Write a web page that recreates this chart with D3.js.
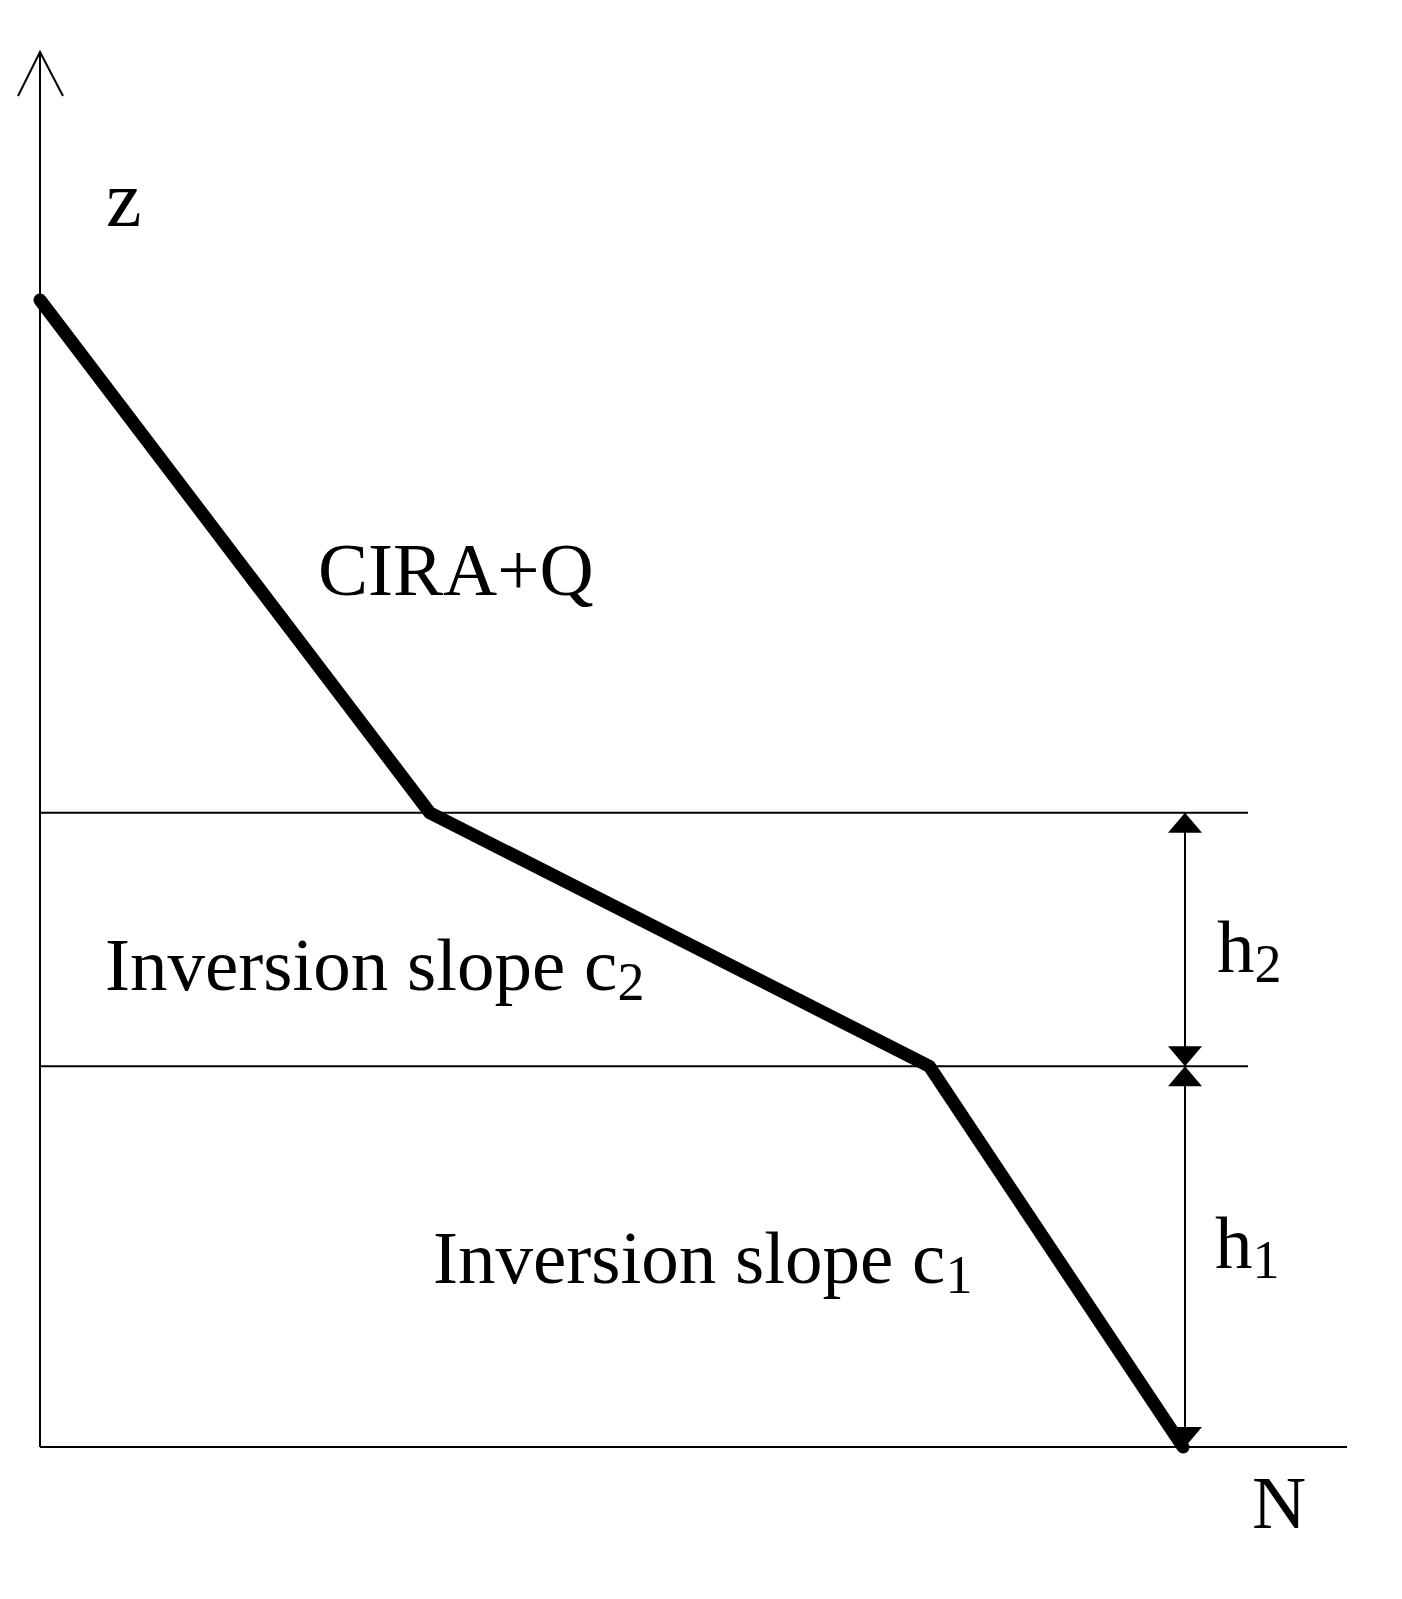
<!DOCTYPE html>
<html><head><meta charset="utf-8">
<script src="https://cdn.jsdelivr.net/npm/d3@7"></script>
<style>body{margin:0;background:#fff}</style>
</head><body>
<svg id="chart" width="1402" height="1599"></svg>
<script>
// profile: N (normalised) vs z (normalised)
const profileN = [0, 0.341, 0.778, 1];
const profileZ = [1, 0.553, 0.332, 0];
const layerZ = [0.553, 0.332];
const layerLabels = ["Inversion slope c", "Inversion slope c"];
const layerSubs = ["2", "1"];

const svg = d3.select("#chart");
const x = d3.scaleLinear().domain([0, 1]).range([40, 1183]);
const y = d3.scaleLinear().domain([0, 1]).range([1447, 300]);
const font = "'Liberation Serif', 'Times New Roman', serif";

// axes
svg.append("line").attr("x1", 40).attr("y1", 1447).attr("x2", 40).attr("y2", 52)
  .attr("stroke", "#000").attr("stroke-width", 2);
svg.append("path").attr("d", "M18,96 L40,52 L63,96").attr("fill", "none")
  .attr("stroke", "#000").attr("stroke-width", 2);
svg.append("line").attr("x1", 40).attr("y1", 1447).attr("x2", 1347).attr("y2", 1447)
  .attr("stroke", "#000").attr("stroke-width", 2);

// layer boundaries
layerZ.forEach(z => {
  svg.append("line").attr("x1", 40).attr("x2", 1248).attr("y1", y(z)).attr("y2", y(z))
    .attr("stroke", "#000").attr("stroke-width", 2);
});

// profile
const pts = profileN.map((n, i) => [x(n), y(profileZ[i])]);
svg.append("path").attr("d", d3.line()(pts)).attr("fill", "none")
  .attr("stroke", "#000").attr("stroke-width", 13)
  .attr("stroke-linejoin", "round").attr("stroke-linecap", "round");

// dimension arrows
const ax = 1185;
const spans = [[layerZ[0], layerZ[1]], [layerZ[1], 0]];
spans.forEach(([a, b]) => {
  const ya = y(a), yb = y(b);
  svg.append("line").attr("x1", ax).attr("x2", ax).attr("y1", ya).attr("y2", yb)
    .attr("stroke", "#000").attr("stroke-width", 2);
  svg.append("path").attr("d", `M${ax},${ya} L${ax - 17},${ya + 20} L${ax + 17},${ya + 20}Z`);
  svg.append("path").attr("d", `M${ax},${yb} L${ax - 17},${yb - 20} L${ax + 17},${yb - 20}Z`);
});

function label(tx, ty, main, sub, size) {
  const t = svg.append("text").attr("x", tx).attr("y", ty)
    .attr("font-family", font).attr("font-size", size).text(main);
  if (sub) t.append("tspan").attr("font-size", size * 0.72).attr("dy", 10).text(sub);
}
label(106, 226, "z", null, 80);
label(318, 595, "CIRA+Q", null, 75);
label(105, 990, layerLabels[0], layerSubs[0], 75);
label(433, 1283, layerLabels[1], layerSubs[1], 75);
label(1217, 972, "h", "2", 75);
label(1215, 1268, "h", "1", 75);
label(1252, 1528, "N", null, 75);
</script>
</body></html>
